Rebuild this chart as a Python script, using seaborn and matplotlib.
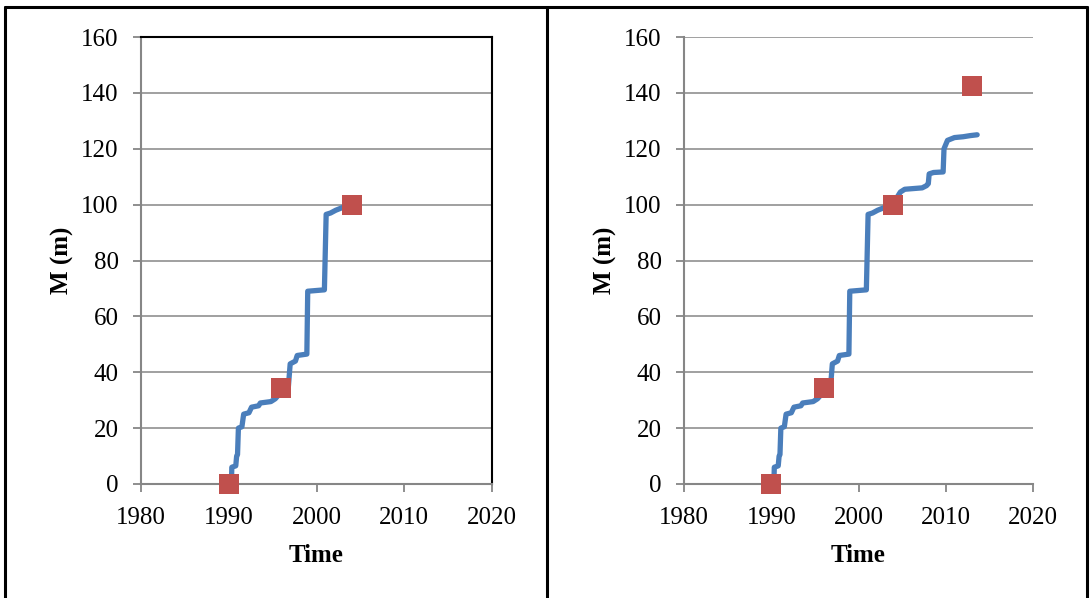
import matplotlib
matplotlib.use("Agg")
import matplotlib.pyplot as plt
from matplotlib.lines import Line2D
import seaborn as sns
import pandas as pd

# ---- data ----
left_time = [1990.3, 1990.35, 1990.8, 1990.9, 1991.0, 1991.1, 1991.5, 1991.7, 1992.3, 1992.6,
             1993.4, 1993.6, 1994.8, 1995.3, 1996.0, 1996.8, 1997.0, 1997.6, 1997.8, 1998.9,
             1999.0, 2000.9, 2001.1, 2001.6, 2002.2, 2003.0, 2003.5]
left_M = [0, 6, 6.5, 10, 10.5, 20, 20.5, 25, 25.5, 27.5,
          28, 29, 29.5, 30.5, 33, 35, 43, 44, 46, 46.5,
          69, 69.5, 96.5, 97, 98, 99, 100]

right_time = left_time + [2004.3, 2004.8, 2005.3, 2006.5, 2007.3, 2007.8, 2008.0, 2008.1,
                          2008.6, 2009.7, 2009.8, 2010.2, 2011.0, 2012.0, 2012.8, 2013.6]
right_M = left_M + [102, 104.5, 105.5, 105.8, 106, 106.8, 107.5, 111,
                    111.5, 111.7, 120, 123, 124, 124.3, 124.7, 125]

left_obs_time = [1990, 1996, 2004]
left_obs_M = [0, 34.5, 100]
right_obs_time = [1990, 1996, 2004, 2013]
right_obs_M = [0, 34.5, 100, 142.5]

x_ticks = [1980, 1990, 2000, 2010, 2020]
y_ticks = [0, 20, 40, 60, 80, 100, 120, 140, 160]
x_label = "Time"
y_label = "M (m)"

# ---- style ----
sns.set_theme(style="white")
plt.rcParams['font.family'] = ['Liberation Serif', 'DejaVu Serif']
plt.rcParams['text.color'] = 'black'
plt.rcParams['axes.labelcolor'] = 'black'
plt.rcParams['xtick.color'] = 'black'
plt.rcParams['ytick.color'] = 'black'

LINE_C = "#4A7EBB"
MARK_C = "#C0504D"
GRAY = "#868686"
FS = 18

W, H = 1091, 598
fig = plt.figure(figsize=(W / 100, H / 100), dpi=100)

def fx(px):
    return px / W

def fy(py):
    return 1 - py / H

top_px, bot_px = 37, 484
ax1 = fig.add_axes([fx(141), fy(bot_px), fx(492 - 141), (bot_px - top_px) / H])
ax2 = fig.add_axes([fx(684), fy(bot_px), fx(1033 - 684), (bot_px - top_px) / H])

def style_axes(ax, boxed):
    ax.set_xlim(1980, 2020)
    ax.set_ylim(0, 160)
    ax.set_xticks(x_ticks)
    ax.set_yticks(y_ticks)
    ax.yaxis.grid(True, color=GRAY, linewidth=1.1)
    ax.xaxis.grid(False)
    ax.set_axisbelow(True)
    ax.tick_params(axis='both', which='major', direction='out', length=6, width=1.3,
                   color=GRAY, labelsize=FS, labelcolor='black', left=True, bottom=True)
    ax.tick_params(axis='y', pad=10)
    ax.tick_params(axis='x', pad=10.5)
    for s in ['left', 'bottom']:
        ax.spines[s].set_color(GRAY)
        ax.spines[s].set_linewidth(1.5)
    if boxed:
        for s in ['top', 'right']:
            ax.spines[s].set_color('black')
            ax.spines[s].set_linewidth(1.5)
            ax.spines[s].set_visible(True)
    else:
        ax.spines['top'].set_visible(False)
        ax.spines['right'].set_visible(False)
    ax.set_xlabel(x_label, fontsize=FS, fontweight='bold', labelpad=11, color='black')
    ax.set_ylabel(y_label, fontsize=FS, fontweight='bold', labelpad=5, color='black')

for ax, t, m, ot, om, boxed in [
    (ax1, left_time, left_M, left_obs_time, left_obs_M, True),
    (ax2, right_time, right_M, right_obs_time, right_obs_M, False),
]:
    line_df = pd.DataFrame({"Time": t, "M": m})
    obs_df = pd.DataFrame({"Time": ot, "M": om})
    sns.lineplot(data=line_df, x="Time", y="M", ax=ax, color=LINE_C, linewidth=3.8,
                 sort=False, estimator=None, solid_joinstyle='round',
                 solid_capstyle='round', zorder=3)
    sns.scatterplot(data=obs_df, x="Time", y="M", ax=ax, marker='s', s=205, color=MARK_C,
                    linewidth=0, clip_on=False, zorder=4)
    style_axes(ax, boxed)

# panel borders
bc = 'black'
blw = 2.2
fig.add_artist(Line2D([fx(5), fx(1087)], [fy(7), fy(7)], transform=fig.transFigure, color=bc, lw=blw))
fig.add_artist(Line2D([fx(5), fx(5)], [fy(7), 0], transform=fig.transFigure, color=bc, lw=blw))
fig.add_artist(Line2D([fx(547), fx(547)], [fy(7), 0], transform=fig.transFigure, color=bc, lw=blw))
fig.add_artist(Line2D([fx(1087), fx(1087)], [fy(7), 0], transform=fig.transFigure, color=bc, lw=blw))

fig.savefig("out.png", dpi=100, facecolor='white')
